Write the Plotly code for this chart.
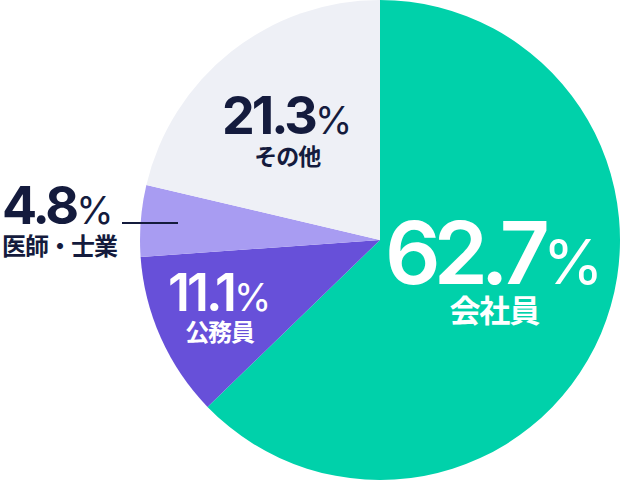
import plotly.graph_objects as go

labels = ["会社員", "公務員", "医師・士業", "その他"]
values = [62.7, 11.1, 4.8, 21.3]
colors = ["#00D1AA", "#6750D9", "#A89CF2", "#EEF0F6"]

W, H = 620, 480
FONT = "Inter, 'Noto Sans CJK JP', sans-serif"
DARK = "#141B3D"

fig = go.Figure(go.Pie(
    labels=labels, values=values, sort=False, direction="clockwise",
    rotation=0, marker=dict(colors=colors, line=dict(width=0)),
    textinfo="none", hoverinfo="label+percent", showlegend=False,
    domain=dict(x=[140 / W, 1], y=[0, 1]),
))

def px(x, y):
    return x / W, 1 - y / H

# index, block x, xanchor/align, block mid y, base size (line pitch),
# num size, num weight, tracking, pct size, label size, color
specs = [
    (0, 494, "center", 264, 29, 87, 600, -7, 62, 31, "white"),
    (1, 219, "center", 304, 23, 52, 600, -3, 38, 24, "white"),
    (2, 0, "left", 217, 24, 52, 700, -3, 38, 24, DARK),
    (3, 287, "center", 127, 24, 52, 700, -3, 38, 23, DARK),
]

annotations = []
for i, bx, anc, by, base, ns, nw, tr, ps, ls, col in specs:
    x, y = px(bx, by)
    text = (f"<span style='font-size:{ns}px;font-weight:{nw};letter-spacing:{tr}px'>{values[i]:.1f}</span>"
            f"<span style='font-size:{ps}px;font-weight:400'>%</span><br>"
            f"<span style='font-size:{ls}px;font-weight:700;letter-spacing:-1px'>{labels[i]}</span>")
    annotations.append(dict(
        x=x, y=y, xref="paper", yref="paper", xanchor=anc, yanchor="middle",
        align=anc, showarrow=False, text=text,
        font=dict(family=FONT, size=base, color=col),
    ))

fig.update_layout(
    width=W, height=H, margin=dict(l=0, r=0, t=0, b=0),
    paper_bgcolor="white", plot_bgcolor="white",
    annotations=annotations,
    shapes=[dict(type="line", xref="paper", yref="paper",
                 x0=122 / W, x1=178 / W, y0=1 - 223 / H, y1=1 - 223 / H,
                 line=dict(color=DARK, width=2))],
)

fig.write_html("out.html", config={"displayModeBar": False},
               post_script="document.body.style.margin='0';")
